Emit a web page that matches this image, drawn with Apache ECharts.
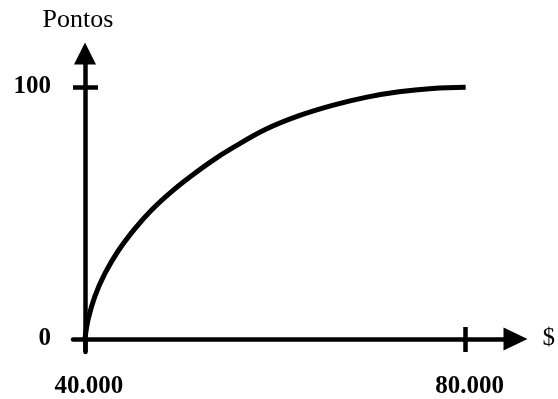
<!DOCTYPE html>
<html>
<head>
<meta charset="utf-8">
<script src="https://cdn.jsdelivr.net/npm/echarts@6/dist/echarts.min.js"></script>
<style>html,body{margin:0;padding:0;background:#fff}#c{width:558px;height:399px}</style>
</head>
<body>
<div id="c"></div>
<script>
// Data
var xValues = [40000, 40350, 41050, 42100, 43500, 45250, 47000, 49100, 51200, 53400, 55500, 59000, 62500, 66000, 69500, 73000, 76500, 80000];
var yValues = [0, 8.0, 17.0, 26.0, 35.0, 43.8, 51.2, 58.5, 64.8, 70.8, 75.8, 83.2, 88.6, 92.7, 95.9, 98.1, 99.4, 99.9];
var xTickValues = [40000, 80000];
var xTickLabels = ['40.000', '80.000'];
var yTickValues = [0, 100];
var yTickLabels = ['0', '100'];
var xName = '$';
var yName = 'Pontos';

var xMin = 38743, xMax = 85236;
var yMin = -5.2, yMax = 113.3;
var gridLeft = 73, gridRight = 41, gridTop = 53.5, gridBottom = 38;
var gridWidth = 558 - gridLeft - gridRight;
var yAxisOffset = -(xTickValues[0] - xMin) / (xMax - xMin) * gridWidth;

var data = xValues.map(function (x, i) { return [x, yValues[i]]; });
var lw = 4.5;
var serif = '"Liberation Serif", "Times New Roman", serif';

var chart = echarts.init(document.getElementById('c'));
chart.setOption({
  animation: false,
  backgroundColor: '#fff',
  grid: { left: gridLeft, right: gridRight, top: gridTop, bottom: gridBottom, containLabel: false },
  xAxis: [{
    type: 'value', min: xMin, max: xMax, position: 'bottom',
    name: xName, nameLocation: 'end', nameGap: 27,
    nameTextStyle: { fontFamily: serif, fontSize: 25, color: '#000', verticalAlign: 'middle' },
    axisLine: { show: true, onZero: true, symbol: ['none', 'triangle'], symbolSize: [23, 24], lineStyle: { color: '#000', width: lw } },
    axisTick: { show: true, customValues: xTickValues, length: 13, inside: false, lineStyle: { color: '#000', width: lw } },
    axisLabel: {
      show: true, customValues: xTickValues, margin: 22, padding: [0, 0, 0, 8],
      fontFamily: serif, fontWeight: 'bold', fontSize: 25, color: '#000',
      formatter: function (v) { var i = xTickValues.indexOf(v); return i >= 0 ? xTickLabels[i] : ''; }
    },
    splitLine: { show: false }
  }, {
    type: 'value', min: xMin, max: xMax, position: 'bottom',
    axisLine: { show: false, onZero: true },
    axisTick: { show: true, customValues: [xTickValues[1]], length: 12, inside: true, lineStyle: { color: '#000', width: lw } },
    axisLabel: { show: false },
    splitLine: { show: false }
  }],
  yAxis: [{
    type: 'value', min: yMin, max: yMax, position: 'left', offset: yAxisOffset,
    name: yName, nameLocation: 'end', nameGap: 20,
    nameTextStyle: { fontFamily: serif, fontSize: 26, color: '#000', padding: [0, 14, 0, 0] },
    axisLine: { show: true, symbol: ['none', 'triangle'], symbolSize: [22, 22], lineStyle: { color: '#000', width: lw } },
    axisTick: { show: true, customValues: [yTickValues[1]], length: 12, inside: false, lineStyle: { color: '#000', width: lw } },
    axisLabel: {
      show: true, customValues: yTickValues, margin: 34,
      fontFamily: serif, fontWeight: 'bold', fontSize: 25, color: '#000',
      formatter: function (v) { var i = yTickValues.indexOf(v); return i >= 0 ? yTickLabels[i] : ''; }
    },
    splitLine: { show: false }
  }, {
    type: 'value', min: yMin, max: yMax, position: 'left', offset: yAxisOffset,
    axisLine: { show: false },
    axisTick: { show: true, customValues: [yTickValues[1]], length: 13, inside: true, lineStyle: { color: '#000', width: lw } },
    axisLabel: { show: false },
    splitLine: { show: false }
  }],
  series: [{
    type: 'line', xAxisIndex: 0, yAxisIndex: 0, data: data, smooth: 0.4,
    symbol: 'none', lineStyle: { color: '#000', width: 5 }, clip: false
  }]
});
</script>
</body>
</html>
